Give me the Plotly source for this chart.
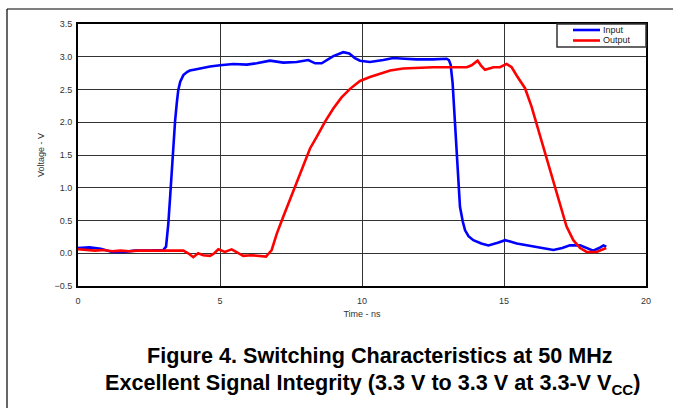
import plotly.graph_objects as go

# ---- data ----
time_input = [0, 0.4, 0.8, 1.2, 1.6, 2.0, 2.5, 3.0, 3.1, 3.18, 3.25, 3.30, 3.36, 3.42, 3.48, 3.53, 3.6,
              3.71, 3.85, 3.94, 4.17, 4.4, 4.65, 5.0, 5.47, 5.94, 6.29, 6.76, 7.0, 7.23, 7.70, 8.11,
              8.35, 8.58, 8.99, 9.34, 9.55, 9.75, 9.93, 10.28, 10.75, 11.1, 11.5, 11.92, 12.5, 12.98,
              13.06, 13.12, 13.19, 13.27, 13.36, 13.45, 13.55, 13.63, 13.75, 13.92, 14.2, 14.45, 14.78,
              15.04, 15.45, 16.15, 16.74, 17.05, 17.32, 17.68, 17.9, 18.14, 18.35, 18.5, 18.6]
volt_input = [0.08, 0.09, 0.07, 0.02, 0.02, 0.04, 0.04, 0.05, 0.10, 0.45, 0.9, 1.27, 1.65, 2.03, 2.3,
              2.49, 2.62, 2.72, 2.77, 2.79, 2.81, 2.83, 2.85, 2.87, 2.89, 2.88, 2.90, 2.94, 2.92, 2.91,
              2.92, 2.95, 2.90, 2.90, 3.01, 3.07, 3.05, 2.98, 2.94, 2.92, 2.95, 2.98, 2.97, 2.96, 2.96,
              2.97, 2.95, 2.88, 2.6, 2.05, 1.27, 0.71, 0.48, 0.35, 0.26, 0.20, 0.15, 0.12, 0.16, 0.20,
              0.15, 0.10, 0.05, 0.08, 0.12, 0.12, 0.08, 0.04, 0.08, 0.12, 0.10]

time_output = [0, 0.3, 0.6, 0.9, 1.2, 1.5, 1.8, 2.1, 2.4, 2.7, 3.0, 3.3, 3.71, 3.88, 4.06, 4.23, 4.41,
               4.65, 4.8, 4.94, 5.17, 5.41, 5.59, 5.82, 6.1, 6.4, 6.62, 6.82, 7.0, 7.23, 7.46, 7.70,
               7.93, 8.17, 8.41, 8.70, 8.99, 9.28, 9.58, 9.93, 10.28, 10.52, 10.99, 11.45, 11.92, 12.5,
               13.1, 13.69, 13.86, 14.07, 14.2, 14.33, 14.63, 14.86, 15.09, 15.27, 15.45, 15.74, 15.97,
               16.21, 16.44, 16.68, 16.91, 17.2, 17.44, 17.68, 17.91, 18.26, 18.6]
volt_output = [0.06, 0.05, 0.04, 0.05, 0.03, 0.04, 0.03, 0.04, 0.04, 0.03, 0.03, 0.04, 0.04, 0.0, -0.06,
               0.0, -0.03, -0.04, 0.0, 0.06, 0.02, 0.06, 0.02, -0.04, -0.03, -0.04, -0.05, 0.05, 0.30,
               0.56, 0.81, 1.07, 1.32, 1.60, 1.78, 2.01, 2.21, 2.38, 2.51, 2.63, 2.69, 2.72, 2.79, 2.82,
               2.83, 2.84, 2.84, 2.84, 2.87, 2.94, 2.86, 2.80, 2.84, 2.84, 2.89, 2.84, 2.71, 2.52, 2.24,
               1.88, 1.53, 1.17, 0.81, 0.41, 0.20, 0.08, 0.02, 0.02, 0.08]

series_names = ["Input", "Output"]
x_ticks = [0, 5, 10, 15, 20]
y_ticks = [-0.5, 0.0, 0.5, 1.0, 1.5, 2.0, 2.5, 3.0, 3.5]
title_line1 = "Figure 4. Switching Characteristics at 50 MHz"
title_line2 = "Excellent Signal Integrity (3.3 V to 3.3 V at 3.3-V V<sub>CC</sub>)"

BLUE = "#0000FF"
RED = "#FF0000"
FONT = "Arial, Liberation Sans, sans-serif"

W, H = 673, 408
L, R, T, B = 78, 27, 24, 122
PW, PH = W - L - R, H - T - B


def px(xp):
    return (xp - L) / PW


def py(yp):
    return (H - B - yp) / PH


fig = go.Figure()
fig.add_trace(go.Scatter(x=time_input, y=volt_input, mode="lines", name=series_names[0],
                         line=dict(color=BLUE, width=2.6)))
fig.add_trace(go.Scatter(x=time_output, y=volt_output, mode="lines", name=series_names[1],
                         line=dict(color=RED, width=2.6)))

axis_common = dict(showline=True, linecolor="black", linewidth=2, mirror=True,
                   showgrid=True, gridcolor="#333333", gridwidth=1, zeroline=False,
                   ticks="", tickfont=dict(family=FONT, size=9, color="#333333"))

fig.update_xaxes(range=[0, 20], tickvals=x_ticks, ticktext=[str(v) for v in x_ticks],
                 ticklabelstandoff=5,
                 title=dict(text="Time - ns", font=dict(family=FONT, size=9, color="#333333"), standoff=6),
                 **axis_common)
fig.update_yaxes(range=[-0.5, 3.5], tickvals=y_ticks, tickformat=".1f",
                 ticklabelstandoff=2,
                 title=dict(text="Voltage - V", font=dict(family=FONT, size=9, color="#333333"), standoff=8),
                 **axis_common)

shapes = [
    # outer page frame (top and left)
    dict(type="line", xref="paper", yref="paper", x0=px(7), x1=px(673), y0=py(9), y1=py(9),
         line=dict(color="black", width=1.2)),
    dict(type="line", xref="paper", yref="paper", x0=px(7), x1=px(7), y0=py(9), y1=py(408),
         line=dict(color="black", width=1.2)),
    # legend box
    dict(type="rect", xref="paper", yref="paper", x0=px(557), x1=px(646), y0=py(24), y1=py(47),
         fillcolor="white", line=dict(color="#333333", width=1.5)),
    dict(type="line", xref="paper", yref="paper", x0=px(573), x1=px(600), y0=py(30), y1=py(30),
         line=dict(color=BLUE, width=2.6)),
    dict(type="line", xref="paper", yref="paper", x0=px(573), x1=px(600), y0=py(40.5), y1=py(40.5),
         line=dict(color=RED, width=2.6)),
]

annotations = [
    dict(text=series_names[0], xref="paper", yref="paper", x=px(601), y=py(30), xanchor="left",
         yanchor="middle", showarrow=False, font=dict(family=FONT, size=9, color="#222222")),
    dict(text=series_names[1], xref="paper", yref="paper", x=px(601), y=py(40.5), xanchor="left",
         yanchor="middle", showarrow=False, font=dict(family=FONT, size=9, color="#222222")),
    dict(text="<b>" + title_line1 + "</b>", xref="paper", yref="paper", x=px(380), y=py(355),
         xanchor="center", yanchor="middle", showarrow=False,
         font=dict(family=FONT, size=21.6, color="black")),
    dict(text="<b>" + title_line2 + "</b>", xref="paper", yref="paper", x=px(372), y=py(384),
         xanchor="center", yanchor="middle", showarrow=False,
         font=dict(family=FONT, size=21.6, color="black")),
]

fig.update_layout(width=W, height=H, margin=dict(l=L, r=R, t=T, b=B, autoexpand=False),
                  paper_bgcolor="white", plot_bgcolor="white", showlegend=False,
                  shapes=shapes, annotations=annotations, font=dict(family=FONT))

fig.write_html("out.html", config={"displayModeBar": False},
               post_script="document.body.style.margin='0';document.body.style.overflow='hidden';")
